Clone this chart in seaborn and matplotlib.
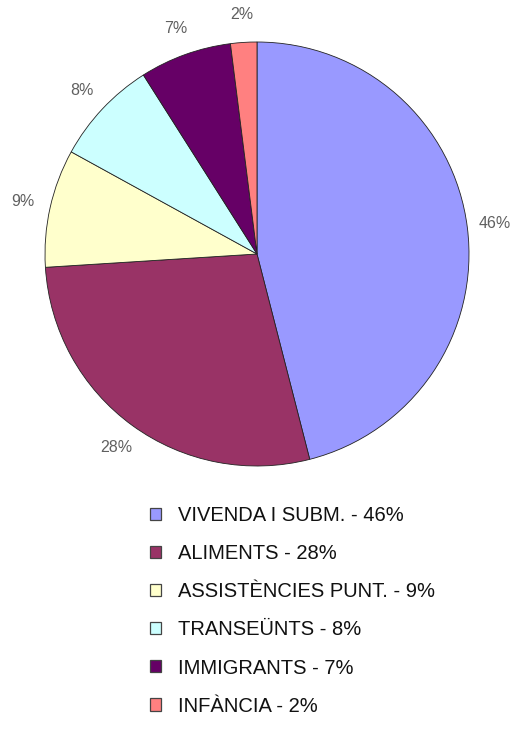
import matplotlib
matplotlib.use('Agg')
import matplotlib.pyplot as plt
import seaborn as sns
from matplotlib.patches import Patch

# data
categories = ['VIVENDA I SUBM.', 'ALIMENTS', 'ASSISTÈNCIES PUNT.', 'TRANSEÜNTS', 'IMMIGRANTS', 'INFÀNCIA']
values = [46, 28, 9, 8, 7, 2]
colors = ['#9999FF', '#993366', '#FFFFCC', '#CCFFFF', '#660066', '#FF8080']

sns.set_style('white')
plt.rcParams['font.family'] = ['Liberation Sans', 'DejaVu Sans']

fig = plt.figure(figsize=(5.13, 7.29), dpi=100)
ax = fig.add_axes([45/513, (729-466)/729, 424/513, 424/729])

wedges, texts, pcts = ax.pie(values, colors=colors, startangle=90, counterclock=False,
                             autopct='%1.0f%%', pctdistance=1.13,
                             wedgeprops=dict(edgecolor='#222222', linewidth=0.6),
                             textprops=dict(color='#606060', fontsize=11.5))
ax.set_xlim(-1, 1)
ax.set_ylim(-1, 1)
ax.set_aspect('equal')

handles = [Patch(facecolor=c, edgecolor='#444444', linewidth=0.9) for c in colors]
labels = [f'{c} - {v}%' for c, v in zip(categories, values)]
fig.legend(handles, labels, loc='upper left', bbox_to_anchor=(150/513, 1 - 506/729),
           frameon=False, fontsize=14.5, handlelength=0.55, handleheight=0.55,
           handletextpad=0.85, labelspacing=0.95, borderaxespad=0, borderpad=0,
           labelcolor='#111111')

fig.savefig('out.png', dpi=100)
